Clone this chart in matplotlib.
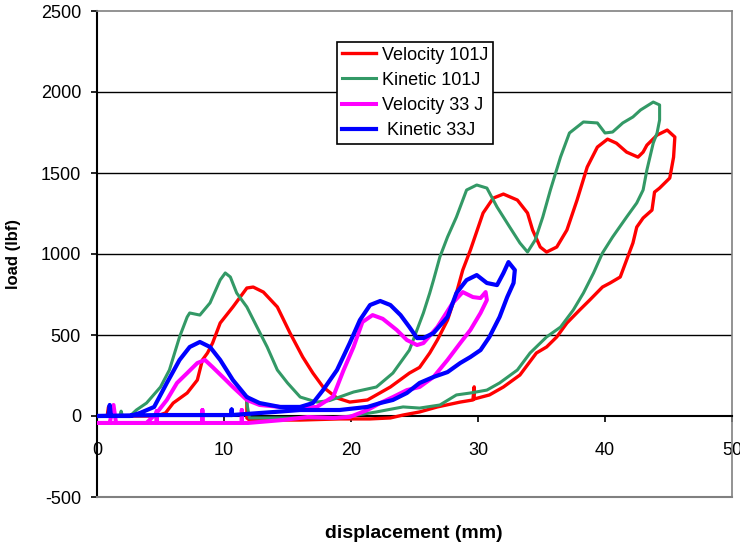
import matplotlib
matplotlib.use("Agg")
import matplotlib.pyplot as plt

plt.rcParams['font.family'] = ['Liberation Sans', 'DejaVu Sans']
plt.rcParams['axes.unicode_minus'] = False

# Velocity 101J
red_x = [0, 0.8, 0.9, 1.1, 4.7, 5.4, 6.0, 7.1, 7.9, 8.3, 8.7, 9.1, 9.7, 10.7, 11.8, 12.3, 13.1, 14.2, 15.2, 16.2,
         17.0, 17.8, 18.9, 19.9, 21.3, 23.1, 24.6, 25.4, 26.2, 26.8, 27.6, 28.3, 28.8, 29.4, 30.4, 31.2, 32.0, 33.1,
         33.9, 34.3, 34.9, 35.4, 36.2, 37.0, 37.8, 38.6, 39.4, 40.2, 40.9, 41.7, 42.6, 43.0, 43.3, 44.1, 44.9, 45.5,
         45.4, 45.1, 44.3, 43.9, 43.7, 43.0, 42.5, 42.2, 41.7, 41.2, 40.4, 39.8, 38.8, 38.0, 37.0, 36.2, 35.4, 34.6,
         33.3, 32.0, 30.9, 29.7, 29.7, 29.6, 28.6, 26.8, 25.4, 24.1, 23.1, 21.5, 19.1, 16.0, 12.0, 11.8, 11.8]
red_y = [0, 0, 55, 0, 0, 19, 80, 142, 222, 346, 389, 450, 574, 673, 790, 796, 765, 673, 512, 364,
         265, 179, 111, 86, 99, 179, 265, 300, 389, 469, 592, 759, 901, 1024, 1253, 1345, 1370, 1333,
         1253, 1148, 1043, 1012, 1043, 1148, 1333, 1537, 1660, 1709, 1684, 1629, 1598, 1629, 1672, 1734, 1765, 1722,
         1598, 1469, 1407, 1382, 1271, 1222, 1166, 1068, 963, 858, 821, 796, 716, 654, 574, 488, 426, 389,
         253, 179, 130, 105, 180, 99, 86, 56, 25, 6, -12, -18, -18, -25, -25, -12, 117]

# Kinetic 101J
green_x = [0, 1.8, 1.9, 2.0, 2.6, 3.1, 3.9, 5.0, 5.7, 6.5, 7.1, 7.3, 8.1, 8.9, 9.7, 10.1, 10.5, 11.0, 11.8, 12.6,
           13.4, 14.2, 15.0, 16.0, 17.3, 18.3, 20.2, 22.0, 23.3, 24.6, 25.7, 26.2, 26.5, 27.0, 27.6, 28.3, 29.1,
           29.9, 30.7, 31.5, 32.5, 33.3, 33.9, 34.5, 35.1, 35.7, 36.5, 37.2, 38.3, 39.4, 40.0, 40.6, 41.4, 42.2,
           42.8, 43.8, 44.3, 44.3, 44.1, 43.8, 43.3, 43.0, 42.5, 41.7, 40.6, 39.8, 39.1, 38.3, 37.5, 36.5, 35.4,
           34.1, 33.1, 31.7, 30.7, 29.4, 28.3, 27.0, 25.4, 24.1, 22.8, 22.0, 20.0, 18.6, 12.0, 11.8]
green_y = [0, 0, 30, 0, 0, 37, 80, 179, 284, 488, 611, 636, 623, 698, 840, 883, 858, 759, 673, 549,
           426, 284, 204, 117, 86, 95, 148, 179, 265, 407, 636, 759, 840, 982, 1105, 1228, 1395,
           1426, 1407, 1290, 1166, 1068, 1012, 1086, 1228, 1395, 1599, 1747, 1815, 1809, 1747, 1753, 1809, 1846,
           1889, 1938, 1920, 1827, 1747, 1685, 1519, 1395, 1315, 1228, 1105, 1006, 883, 759, 654, 549, 488,
           389, 284, 204, 160, 142, 130, 68, 49, 56, 37, 25, 0, -12, -12, 80]

# Velocity 33 J
mag_x = [0, 1.0, 1.3, 1.5, 3.9, 4.7, 5.5, 6.3, 7.1, 7.9, 8.5, 9.1, 9.9, 10.7, 11.8, 12.8, 14.4, 16.0, 17.3, 18.6,
         19.4, 20.2, 20.9, 21.7, 22.5, 23.6, 24.4, 25.2, 25.7, 26.8, 28.0, 28.8, 29.6, 30.2, 30.6, 30.7, 30.2,
         29.4, 28.6, 27.6, 26.5, 25.4, 24.4, 23.3, 22.3, 21.3, 19.9, 18.6, 16.6, 14.6,
         11.9, 11.4, 11.4, 11.4, 8.3, 8.3, 8.3, 4.7, 4.7, 4.7, 0]
mag_y = [-43, -43, 68, -43, -43, 19, 99, 204, 265, 327, 346, 302, 241, 179, 99, 68, 56, 49, 56, 120,
         280, 426, 580, 623, 600, 531, 469, 438, 450, 549, 697, 765, 734, 728, 765, 716, 636,
         531, 450, 346, 241, 179, 160, 117, 80, 37, -6, -12, -6, -25,
         -43, -43, 37, -43, -43, 37, -43, -43, 30, -43, -43]

# Kinetic 33J
blue_x = [0, 0.9, 1.0, 1.1, 2.6, 3.4, 4.5, 5.5, 6.5, 7.3, 8.1, 8.9, 9.7, 10.7, 11.8, 12.8, 14.4, 16.0, 17.0, 17.8,
          18.9, 19.9, 20.7, 21.5, 22.3, 23.1, 23.9, 24.6, 25.2, 25.7, 26.5, 27.6, 28.3, 29.1, 29.9, 30.7, 31.5,
          32.0, 32.4, 32.9, 32.8, 32.3, 31.7, 30.9, 30.2, 29.4, 28.6, 27.6, 26.5, 25.4, 24.4, 23.3, 22.3, 21.3,
          19.1, 16.0, 14.0, 10.6, 10.6, 10.6, 5.0, 0]
blue_y = [0, 0, 68, 0, 0, 19, 56, 204, 346, 426, 457, 426, 346, 222, 117, 80, 56, 56, 80, 160,
          284, 450, 592, 685, 710, 685, 623, 549, 481, 481, 512, 611, 759, 839, 870, 821, 808,
          882, 950, 901, 821, 734, 611, 488, 407, 364, 327, 271, 241, 204, 142, 99, 80, 56,
          37, 37, 25, 6, 40, 6, 6, 0]

fig = plt.figure(figsize=(7.4, 5.45), dpi=100)
ax = fig.add_axes([97 / 740, 48 / 545, 635 / 740, 486 / 545])

# horizontal grid
for yv in [500, 1000, 1500, 2000]:
    ax.axhline(yv, color='black', lw=1.0, zorder=1)

ax.plot(red_x, red_y, color='#ff0000', lw=2.4, label='Velocity 101J', solid_joinstyle='round', zorder=3)
ax.plot(green_x, green_y, color='#339966', lw=2.2, label='Kinetic 101J', solid_joinstyle='round', zorder=3)
ax.plot(mag_x, mag_y, color='#ff00ff', lw=2.9, label='Velocity 33 J', solid_joinstyle='round', zorder=3)
ax.plot(blue_x, blue_y, color='#0000ff', lw=3.0, label=' Kinetic 33J', solid_joinstyle='round', zorder=3)

ax.set_xlim(0, 50)
ax.set_ylim(-500, 2500)
ax.set_xticks(range(0, 51, 10))
ax.set_yticks(range(-500, 2501, 500))

ax.spines['bottom'].set_position(('data', 0))
ax.spines['bottom'].set_color('black')
ax.spines['bottom'].set_linewidth(1.5)
ax.spines['left'].set_color('black')
ax.spines['left'].set_linewidth(1.5)
for s in ['top', 'right']:
    ax.spines[s].set_color('#808080')
    ax.spines[s].set_linewidth(1.2)
ax.axhline(-500, color='#808080', lw=1.5, clip_on=False, zorder=4)

ax.tick_params(axis='x', direction='out', length=4.5, width=1.2, pad=14, labelsize=13)
ax.tick_params(axis='y', direction='out', length=4.5, width=1.2, pad=7, labelsize=13)

ax.set_ylabel('load (lbf)', fontsize=12, fontweight='bold', labelpad=14)
fig.text(414 / 740, 1 - 533 / 545, 'displacement (mm)', fontsize=14, fontweight='bold',
         ha='center', va='center')

leg = ax.legend(loc='upper left', bbox_to_anchor=(0.378, 0.936), borderaxespad=0, fancybox=False,
                edgecolor='black', framealpha=1, fontsize=13, handlelength=1.9, handletextpad=0.35,
                labelspacing=0.45, borderpad=0.25)
leg.get_frame().set_linewidth(1.2)
leg.set_zorder(5)

fig.savefig('out.png', dpi=100)
